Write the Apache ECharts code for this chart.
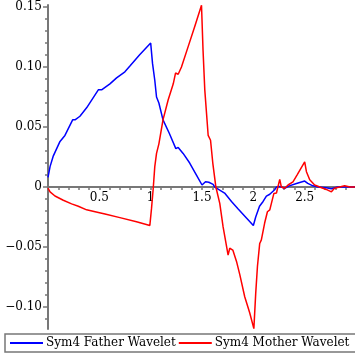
<!DOCTYPE html>
<html>
<head>
<meta charset="utf-8">
<script src="https://cdn.jsdelivr.net/npm/echarts@6/dist/echarts.min.js"></script>
<style>html,body{margin:0;padding:0;background:#fff}#c{width:355px;height:355px}</style>
</head>
<body>
<div id="c"></div>
<script>
var fatherX = [0, 0.02, 0.052, 0.117, 0.165, 0.24, 0.263, 0.311, 0.376, 0.49, 0.522, 0.603, 0.668, 0.749, 0.80, 0.895, 1.0, 1.018, 1.04, 1.057, 1.08, 1.12, 1.18, 1.245, 1.268, 1.316, 1.38, 1.446, 1.50, 1.534, 1.566, 1.608, 1.625, 1.72, 1.787, 1.85, 2.0, 2.023, 2.06, 2.095, 2.127, 2.16, 2.21, 2.225, 2.26, 2.305, 2.35, 2.42, 2.50, 2.53, 2.58, 2.63, 2.71, 2.76, 2.82, 2.9, 2.99];
var fatherY = [0.008, 0.017, 0.026, 0.038, 0.043, 0.056, 0.056, 0.059, 0.066, 0.081, 0.081, 0.086, 0.091, 0.096, 0.101, 0.1105, 0.120, 0.103, 0.089, 0.075, 0.070, 0.056, 0.045, 0.032, 0.033, 0.028, 0.020, 0.010, 0.0017, 0.0044, 0.004, 0.0022, 0, -0.005, -0.012, -0.018, -0.032, -0.025, -0.016, -0.012, -0.0075, -0.006, -0.002, 0, 0.0005, -0.001, 0.001, 0.003, 0.005, 0.003, 0.001, 0, -0.0006, -0.0014, 0, 0, 0];
var motherX = [0, 0.02, 0.068, 0.149, 0.23, 0.295, 0.376, 0.48, 0.555, 0.70, 0.862, 0.992, 1.008, 1.025, 1.04, 1.057, 1.08, 1.12, 1.17, 1.22, 1.242, 1.268, 1.30, 1.365, 1.43, 1.495, 1.51, 1.527, 1.56, 1.583, 1.605, 1.635, 1.673, 1.705, 1.754, 1.77, 1.80, 1.836, 1.868, 1.916, 1.965, 2.005, 2.023, 2.04, 2.062, 2.078, 2.11, 2.137, 2.16, 2.20, 2.225, 2.257, 2.273, 2.305, 2.338, 2.386, 2.425, 2.50, 2.517, 2.549, 2.597, 2.646, 2.71, 2.76, 2.79, 2.84, 2.89, 2.94, 2.99];
var motherY = [-0.001, -0.004, -0.0075, -0.011, -0.014, -0.016, -0.019, -0.021, -0.0225, -0.0255, -0.029, -0.032, -0.018, -0.001, 0.017, 0.028, 0.036, 0.056, 0.0725, 0.086, 0.095, 0.094, 0.100, 0.117, 0.134, 0.1515, 0.114, 0.081, 0.043, 0.039, 0.02, 0, -0.0136, -0.033, -0.0567, -0.051, -0.0525, -0.062, -0.073, -0.0914, -0.105, -0.118, -0.0886, -0.066, -0.047, -0.044, -0.030, -0.0206, -0.019, -0.0053, -0.005, 0.0064, 0, -0.001, 0.0017, 0.0044, 0.010, 0.021, 0.0128, 0.006, 0.0017, 0, -0.002, -0.004, -0.001, 0, 0.001, 0, 0];
var xLabels = [0.5, 1, 1.5, 2, 2.5];
var xTicks = [0.1,0.2,0.3,0.4,0.5,0.6,0.7,0.8,0.9,1,1.1,1.2,1.3,1.4,1.5,1.6,1.7,1.8,1.9,2,2.1,2.2,2.3,2.4,2.5,2.6,2.7,2.8,2.9];
var yLabels = [-0.10, -0.05, 0, 0.05, 0.10, 0.15];
var yMinorTicks = [-0.11,-0.09,-0.08,-0.07,-0.06,-0.04,-0.03,-0.02,-0.01,0.01,0.02,0.03,0.04,0.06,0.07,0.08,0.09,0.11,0.12,0.13,0.14];

function pairs(xs, ys){ return xs.map(function(x,i){ return [x, ys[i]]; }); }
var FONT = 'DejaVu Serif';
var AX = '#777';
var Y_MIN = -0.1183, Y_MAX = 0.1517, G_TOP = 5, G_BOTTOM = 26, H = 355;
var plotH = H - G_TOP - G_BOTTOM;
var zeroOffset = -(plotH * (0 - Y_MIN) / (Y_MAX - Y_MIN));
var chart = echarts.init(document.getElementById('c'), null, {renderer:'canvas'});
chart.setOption({
  animation: false,
  grid: {left: 48, right: 0, top: G_TOP, bottom: G_BOTTOM, containLabel: false},
  xAxis: {
    type: 'value', min: 0, max: 2.99, position: 'bottom', offset: zeroOffset,
    axisLine: {show: true, onZero: false, lineStyle: {color: AX, width: 2}},
    axisTick: {show: true, customValues: xTicks, length: 3, lineStyle: {color: AX, width: 1.5}},
    axisLabel: {customValues: xLabels, margin: 5, color: '#000', fontFamily: FONT, fontSize: 12,
      formatter: function(v){ return String(v); }},
    splitLine: {show: false}
  },
  yAxis: [{
    type: 'value', min: Y_MIN, max: Y_MAX,
    axisLine: {show: true, onZero: false, lineStyle: {color: AX, width: 2}},
    axisTick: {show: true, customValues: yLabels, length: 5, lineStyle: {color: AX, width: 1.5}},
    axisLabel: {customValues: yLabels, margin: 6, color: '#000', fontFamily: FONT, fontSize: 12,
      formatter: function(v){ if (Math.abs(v) < 1e-9) return '0'; var s = Math.abs(v).toFixed(2); return (v < 0 ? '\u2212' : '') + s; }},
    splitLine: {show: false}
  }, {
    type: 'value', min: Y_MIN, max: Y_MAX, position: 'left',
    axisLine: {show: false, onZero: false},
    axisTick: {show: true, customValues: yMinorTicks, length: 3, lineStyle: {color: AX, width: 1.5}},
    axisLabel: {show: false},
    splitLine: {show: false}
  }],
  legend: {
    left: 5, top: 334, orient: 'horizontal', width: 346,
    padding: [3, 9, 3, 5],
    borderColor: AX, borderWidth: 1.5, borderRadius: 0,
    icon: 'rect', itemWidth: 33, itemHeight: 2, itemGap: 3,
    textStyle: {fontFamily: FONT, fontSize: 12, color: '#000', padding: [0,0,0,-2]},
    data: ['Sym4 Father Wavelet', 'Sym4 Mother Wavelet']
  },
  series: [{
    name: 'Sym4 Father Wavelet', type: 'line', data: pairs(fatherX, fatherY),
    symbol: 'none', lineStyle: {color: '#0000ff', width: 1.5}, itemStyle: {color: '#0000ff'}, clip: false
  }, {
    name: 'Sym4 Mother Wavelet', type: 'line', data: pairs(motherX, motherY),
    symbol: 'none', lineStyle: {color: '#ff0000', width: 1.5}, itemStyle: {color: '#ff0000'}, clip: false
  }]
});
</script>
</body>
</html>
